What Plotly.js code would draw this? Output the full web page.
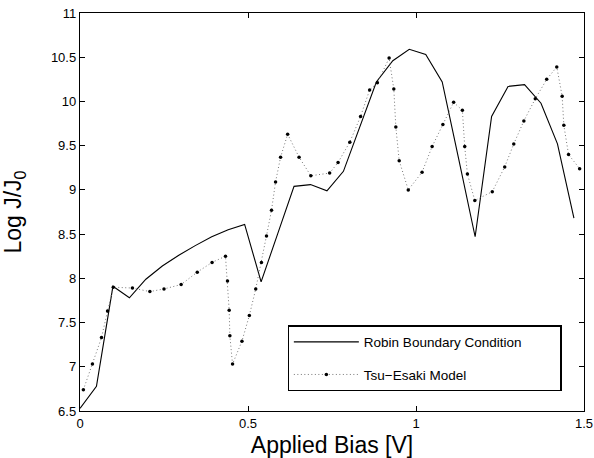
<!DOCTYPE html>
<html>
<head>
<meta charset="utf-8">
<script src="https://cdn.plot.ly/plotly-3.0.1.min.js"></script>
<style>html,body{margin:0;padding:0;background:#fff;}#chart{width:594px;height:458px;}</style>
</head>
<body>
<div id="chart"></div>
<script>
// Robin Boundary Condition (solid), bias step 0.049 V
const robinBias = [0, 0.049, 0.098, 0.147, 0.196, 0.245, 0.294, 0.343, 0.392, 0.441, 0.49,
  0.539, 0.588, 0.637, 0.686, 0.735, 0.784, 0.833, 0.882, 0.931, 0.98,
  1.029, 1.078, 1.127, 1.176, 1.225, 1.274, 1.323, 1.372, 1.421, 1.47];
const robinLogJ = [6.53, 6.78, 7.91, 7.78, 7.99, 8.14, 8.26, 8.37, 8.47, 8.55, 8.61,
  7.96, 8.50, 9.04, 9.06, 8.99, 9.21, 9.72, 10.22, 10.46, 10.59,
  10.53, 10.22, 9.35, 8.47, 9.83, 10.17, 10.19, 9.98, 9.52, 8.68];

// Tsu-Esaki Model (dotted with dot markers)
const tsuBias = [0.01, 0.037, 0.064, 0.082, 0.099, 0.156, 0.208, 0.25, 0.301, 0.349, 0.393, 0.433,
  0.439, 0.444, 0.446, 0.454, 0.482, 0.504, 0.523, 0.54, 0.555, 0.57, 0.582, 0.597, 0.618,
  0.652, 0.687, 0.743, 0.768, 0.803, 0.835, 0.862, 0.885, 0.92, 0.934, 0.94, 0.95, 0.977,
  1.018, 1.048, 1.08, 1.112, 1.138, 1.145, 1.153, 1.175, 1.227, 1.264, 1.291, 1.321, 1.355,
  1.389, 1.419, 1.435, 1.44, 1.454, 1.487];
const tsuLogJ = [6.74, 7.03, 7.33, 7.63, 7.90, 7.89, 7.85, 7.88, 7.93, 8.07, 8.18, 8.25,
  7.97, 7.64, 7.35, 7.03, 7.29, 7.58, 7.88, 8.18, 8.48, 8.77, 9.09, 9.37, 9.63,
  9.37, 9.16, 9.19, 9.31, 9.54, 9.83, 10.13, 10.21, 10.49, 10.14, 9.71, 9.33, 9.00,
  9.20, 9.49, 9.74, 9.99, 9.90, 9.49, 9.18, 8.88, 8.98, 9.26, 9.52, 9.78, 10.03,
  10.25, 10.39, 10.06, 9.73, 9.40, 9.24];

const xTicks = [0, 0.5, 1, 1.5];
const xTickText = ['0', '0.5', '1', '1.5'];
const yTicks = [6.5, 7, 7.5, 8, 8.5, 9, 9.5, 10, 10.5, 11];
const yTickText = ['6.5', '7', '7.5', '8', '8.5', '9', '9.5', '10', '10.5', '11'];

const pad = '\u00a0'.repeat(9);
const traces = [
  {x: robinBias, y: robinLogJ, type: 'scatter', mode: 'lines', name: 'Robin Boundary Condition' + pad,
   legendgroup: 'a', line: {color: '#000', width: 1.1}},
  {x: tsuBias, y: tsuLogJ, type: 'scatter', mode: 'lines+markers', name: 'Tsu\u2212Esaki Model',
   legendgroup: 'b', line: {color: '#777', width: 1, dash: '1px,2.5px'},
   marker: {color: '#000', size: 3.5, symbol: 'circle'}}
];

const FONT = 'Liberation Sans, Arial, sans-serif';
const axisCommon = {
  showgrid: false, zeroline: false, showline: true, linecolor: '#000', linewidth: 1.2,
  mirror: 'ticks', ticks: 'inside', ticklen: 5, tickwidth: 1, tickcolor: '#000',
  tickfont: {family: FONT, size: 13, color: '#000'},
  tickmode: 'array'
};

const layout = {
  width: 594, height: 458,
  margin: {l: 80, r: 10, t: 13, b: 47, pad: 0},
  paper_bgcolor: '#fff', plot_bgcolor: '#fff',
  showlegend: true,
  xaxis: Object.assign({}, axisCommon, {range: [0, 1.5], tickvals: xTicks, ticktext: xTickText,
    title: {text: 'Applied Bias [V]', font: {family: FONT, size: 23, color: '#000'}, standoff: 13}}),
  yaxis: Object.assign({}, axisCommon, {range: [6.5, 11], tickvals: yTicks, ticktext: yTickText,
    title: {text: 'Log J/J<sub>0</sub>', font: {family: FONT, size: 23, color: '#000'}, standoff: 22}}),
  legend: {
    x: 0.412, y: 0.215, xanchor: 'left', yanchor: 'top',
    bgcolor: '#fff', bordercolor: '#000', borderwidth: 1.2,
    font: {family: FONT, size: 13.5, color: '#000'},
    itemwidth: 65, tracegroupgap: 12, itemclick: false
  }
};

Plotly.newPlot('chart', traces, layout, {displayModeBar: false, staticPlot: true});
</script>
</body>
</html>
